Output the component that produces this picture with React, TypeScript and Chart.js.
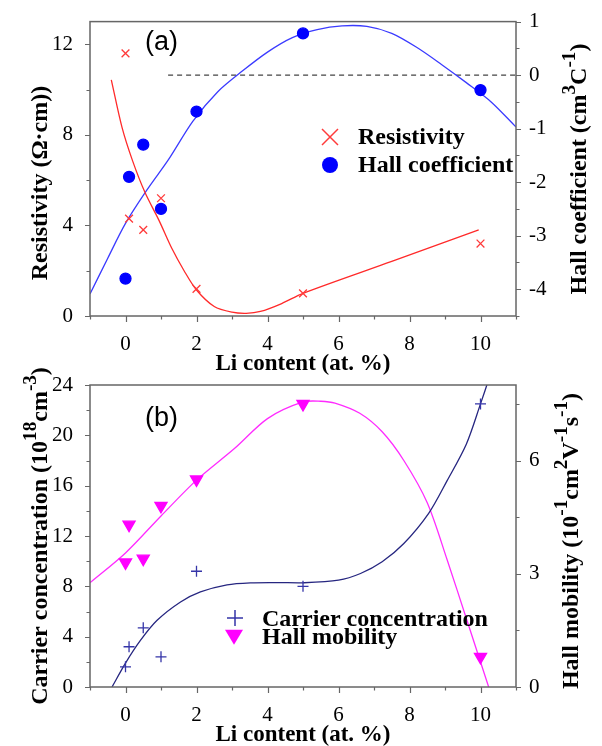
import React, { useEffect, useRef } from 'react';
import { Chart, registerables } from 'chart.js';

Chart.register(...registerables);

// ---------- data: panel (a) ----------
const liContent = [0, 0.1, 0.5, 1, 2, 5, 10];
const resistivity = [11.6, 4.3, 3.8, 5.2, 1.2, 1.0, 3.2];
const hallCoefficient = [-3.8, -1.9, -1.3, -2.5, -0.68, 0.78, -0.28];

const resistivityFitX = [-0.4, -0.1, 0.2, 0.55, 0.95, 1.3, 1.65, 2.0, 2.5, 3.0, 3.4, 3.8, 4.4, 5.0, 7.5, 9.95];
const resistivityFitY = [10.43, 8.34, 6.85, 5.45, 4.2, 3.0, 2.0, 1.15, 0.42, 0.17, 0.12, 0.2, 0.55, 1.0, 2.41, 3.8];

const hallFitX = [-1, -0.5, 0, 0.6, 1.2, 1.9, 2.6, 3.3, 4.0, 4.7, 5.4, 6.1, 6.8, 7.5, 8.2, 8.9, 9.6, 10.3, 11];
const hallFitY = [-4.09, -3.42, -2.77, -2.15, -1.59, -0.86, -0.31, 0.08, 0.43, 0.7, 0.85, 0.92, 0.91, 0.78, 0.52, 0.2, -0.14, -0.5, -0.97];

const zeroLineX = [1.2, 11];
const zeroLineY = [0, 0];

// ---------- data: panel (b) ----------
const carrierConcentration = [1.6, 3.2, 4.7, 2.4, 9.2, 8.0, 22.5];
const hallMobility = [3.3, 4.3, 3.4, 4.8, 5.5, 7.5, 0.8];

const carrierFitX = [-0.38, 0, 0.42, 0.89, 1.55, 2.11, 2.86, 3.52, 4.3, 5, 6.0, 6.62, 7.23, 7.84, 8.54, 9.06, 9.6, 10, 10.25];
const carrierFitY = [0, 1.9, 3.7, 5.3, 6.76, 7.56, 8.12, 8.28, 8.3, 8.28, 8.49, 9.02, 9.95, 11.4, 13.8, 16.4, 19.3, 22.5, 24.6];

const mobilityFitX = [-1, 0, 1, 2, 3.06, 4, 5, 5.5, 5.9, 6.6, 7.23, 7.84, 8.5, 9.06, 9.62, 10.23];
const mobilityFitY = [2.76, 3.55, 4.53, 5.48, 6.31, 7.11, 7.55, 7.57, 7.52, 7.25, 6.76, 6.0, 4.88, 3.37, 1.76, 0];

// ---------- tick values ----------
const xMajorTicks = [0, 2, 4, 6, 8, 10];
const xMinorTicks = [-1, 1, 3, 5, 7, 9, 11];
const resMajorTicks = [0, 4, 8, 12];
const resMinorTicks = [2, 6, 10];
const hallMajorTicks = [-4, -3, -2, -1, 0, 1];
const hallMinorTicks = [-4.5, -3.5, -2.5, -1.5, -0.5, 0.5];
const carMajorTicks = [0, 4, 8, 12, 16, 20, 24];
const carMinorTicks = [2, 6, 10, 14, 18, 22];
const mobMajorTicks = [0, 3, 6];
const mobMinorTicks = [1.5, 4.5, 7.5];

const SERIF = 'Liberation Serif, Times New Roman, serif';
const SANS = 'Liberation Sans, Arial, sans-serif';
const FRAME = '#666666';
const W = 602;
const H = 746;

const pts = (xs: number[], ys: number[]) => xs.map((x, i) => ({ x, y: ys[i] }));

type Rich = [string, boolean][];

function drawRich(ctx: CanvasRenderingContext2D, parts: Rich, cx: number, cy: number, size: number) {
  const supSize = size * 0.8;
  const fontMain = `bold ${size}px ${SERIF}`;
  const fontSup = `bold ${supSize}px ${SERIF}`;
  let total = 0;
  const widths = parts.map(([t, sup]) => {
    ctx.font = sup ? fontSup : fontMain;
    const w = ctx.measureText(t).width;
    total += w;
    return w;
  });
  ctx.save();
  ctx.translate(cx, cy);
  ctx.rotate(-Math.PI / 2);
  ctx.fillStyle = '#000';
  ctx.textBaseline = 'alphabetic';
  ctx.textAlign = 'left';
  const base = size * 0.33;
  let x = -total / 2;
  parts.forEach(([t, sup], i) => {
    ctx.font = sup ? fontSup : fontMain;
    ctx.fillText(t, x, sup ? base - size * 0.45 : base);
    x += widths[i];
  });
  ctx.restore();
}

function drawMarker(ctx: CanvasRenderingContext2D, kind: string, x: number, y: number, s: number, color: string) {
  ctx.save();
  ctx.strokeStyle = color;
  ctx.fillStyle = color;
  ctx.lineWidth = 1.5;
  ctx.beginPath();
  if (kind === 'crossRot') {
    ctx.moveTo(x - s, y - s); ctx.lineTo(x + s, y + s);
    ctx.moveTo(x - s, y + s); ctx.lineTo(x + s, y - s);
    ctx.stroke();
  } else if (kind === 'cross') {
    ctx.moveTo(x - s, y); ctx.lineTo(x + s, y);
    ctx.moveTo(x, y - s); ctx.lineTo(x, y + s);
    ctx.stroke();
  } else if (kind === 'circle') {
    ctx.arc(x, y, s, 0, Math.PI * 2);
    ctx.fill();
  } else if (kind === 'triDown') {
    ctx.moveTo(x - s, y - s * 0.8); ctx.lineTo(x + s, y - s * 0.8); ctx.lineTo(x, y + s * 0.85);
    ctx.closePath();
    ctx.fill();
  }
  ctx.restore();
}

interface PanelCfg {
  label: string;
  labelY: number;
  xTitleY: number;
  leftTitle: Rich; leftX: number; leftY: number;
  rightTitle: Rich; rightX: number; rightY: number;
  yMajor: number[]; yMinor: number[];
  y2Major: number[]; y2Minor: number[];
  legend: { kind: string; color: string; size: number; mx: number; my: number; text: string; tx: number; ty: number }[];
}

function overlayPlugin(p: PanelCfg) {
  return {
    id: 'overlay',
    afterDraw(chart: any) {
      const ctx: CanvasRenderingContext2D = chart.ctx;
      const a = chart.chartArea;
      const sx = chart.scales.x, sy = chart.scales.y, sy2 = chart.scales.y2;
      ctx.save();
      ctx.strokeStyle = FRAME;
      ctx.lineWidth = 1.5;
      ctx.strokeRect(a.left, a.top, a.right - a.left, a.bottom - a.top);
      ctx.lineWidth = 1.2;
      ctx.beginPath();
      const tickX = (vals: number[], len: number) => vals.forEach((v) => {
        const px = Math.round(sx.getPixelForValue(v)) + 0.5;
        ctx.moveTo(px, a.bottom); ctx.lineTo(px, a.bottom + len);
      });
      const tickL = (vals: number[], len: number) => vals.forEach((v) => {
        const py = Math.round(sy.getPixelForValue(v)) + 0.5;
        ctx.moveTo(a.left, py); ctx.lineTo(a.left - len, py);
      });
      const tickR = (vals: number[], len: number) => vals.forEach((v) => {
        const py = Math.round(sy2.getPixelForValue(v)) + 0.5;
        ctx.moveTo(a.right, py); ctx.lineTo(a.right + len, py);
      });
      tickX(xMajorTicks, 6); tickX(xMinorTicks, 3.5);
      tickL(p.yMajor, 5); tickL(p.yMinor, 3.5);
      tickR(p.y2Major, 5); tickR(p.y2Minor, 3.5);
      ctx.stroke();

      // panel label
      ctx.fillStyle = '#000';
      ctx.font = `27px ${SANS}`;
      ctx.textAlign = 'left';
      ctx.textBaseline = 'alphabetic';
      ctx.fillText(p.label, 145, p.labelY);

      // x title
      ctx.font = `bold 23px ${SERIF}`;
      ctx.textAlign = 'center';
      ctx.fillText('Li content (at. %)', (a.left + a.right) / 2, p.xTitleY);

      drawRich(ctx, p.leftTitle, p.leftX, p.leftY, 24);
      drawRich(ctx, p.rightTitle, p.rightX, p.rightY, 24);

      // legend
      p.legend.forEach((l) => {
        drawMarker(ctx, l.kind, l.mx, l.my, l.size, l.color);
        ctx.fillStyle = '#000';
        ctx.font = `bold 24px ${SERIF}`;
        ctx.textAlign = 'left';
        ctx.textBaseline = 'middle';
        ctx.fillText(l.text, l.tx, l.ty);
      });
      ctx.restore();
    },
  };
}

const tickFont = { family: SERIF, size: 21 };

function makeScales(yMin: number, yMax: number, yStep: number, yLabel: (v: number) => boolean,
  y2Min: number, y2Max: number, y2Step: number, y2Label: (v: number) => boolean) {
  const common = { grid: { display: false }, border: { display: false } };
  return {
    x: {
      ...common,
      type: 'linear', min: -1, max: 11,
      afterFit: (s: any) => { s.height = 40; },
      ticks: {
        stepSize: 1, autoSkip: false, includeBounds: false, maxRotation: 0, padding: 8, color: '#000', font: tickFont,
        callback: (v: any) => (v >= 0 && v % 2 === 0 ? String(v) : ''),
      },
    },
    y: {
      ...common,
      position: 'left', min: yMin, max: yMax,
      afterFit: (s: any) => { s.width = 90; },
      ticks: {
        stepSize: yStep, autoSkip: false, includeBounds: false, padding: 9, color: '#000', font: tickFont,
        callback: (v: any) => (yLabel(v) ? String(v) : ''),
      },
    },
    y2: {
      ...common,
      position: 'right', min: y2Min, max: y2Max,
      afterFit: (s: any) => { s.width = W - 516; },
      ticks: {
        stepSize: y2Step, autoSkip: false, includeBounds: false, padding: 5, color: '#000', font: tickFont,
        callback: (v: any) => (y2Label(v) ? String(Math.abs(v) < 1e-9 ? 0 : v) : ''),
      },
    },
  };
}

const scatter = (data: any[], axis: string, style: string, radius: number, color: string, rotation = 0) => ({
  data, yAxisID: axis, showLine: false, order: 0,
  pointStyle: style, pointRadius: radius, pointRotation: rotation,
  pointBackgroundColor: color, pointBorderColor: color, pointBorderWidth: 1.3,
});

const fitLine = (data: any[], axis: string, color: string, dash: number[] = [], tension = 0.3) => ({
  data, yAxisID: axis, showLine: true, order: 1, pointRadius: 0,
  borderColor: color, borderWidth: 1.3, borderDash: dash,
  tension, fill: false,
});

const panelA: PanelCfg = {
  label: '(a)', labelY: 50, xTitleY: 370,
  leftTitle: [['Resistivity (Ω·cm))', false]], leftX: 39, leftY: 183,
  rightTitle: [['Hall coefficient (cm', false], ['3', true], ['C', false], ['-1', true], [')', false]],
  rightX: 578, rightY: 169,
  yMajor: resMajorTicks, yMinor: resMinorTicks, y2Major: hallMajorTicks, y2Minor: hallMinorTicks,
  legend: [
    { kind: 'crossRot', color: '#ff3b3b', size: 8, mx: 330, my: 137, text: 'Resistivity', tx: 358, ty: 138 },
    { kind: 'circle', color: '#0000ff', size: 8, mx: 330, my: 165, text: 'Hall coefficient', tx: 358, ty: 166 },
  ],
};

const panelB: PanelCfg = {
  label: '(b)', labelY: 426, xTitleY: 741,
  leftTitle: [['Carrier concentration (10', false], ['18', true], ['cm', false], ['-3', true], [')', false]],
  leftX: 39, leftY: 536,
  rightTitle: [['Hall mobility (10', false], ['-1', true], ['cm', false], ['2', true], ['V', false], ['-1', true], ['s', false], ['-1', true], [')', false]],
  rightX: 570, rightY: 541,
  yMajor: carMajorTicks, yMinor: carMinorTicks, y2Major: mobMajorTicks, y2Minor: mobMinorTicks,
  legend: [
    { kind: 'cross', color: '#3535a8', size: 8, mx: 235, my: 618, text: 'Carrier concentration', tx: 262, ty: 620 },
    { kind: 'triDown', color: '#ff00ff', size: 9, mx: 234, my: 637, text: 'Hall mobility', tx: 262, ty: 638 },
  ],
};

function configA(): any {
  return {
    type: 'line',
    data: {
      datasets: [
        scatter(pts(liContent, resistivity), 'y', 'crossRot', 5.5, '#ff3b3b'),
        scatter(pts(liContent, hallCoefficient), 'y2', 'circle', 5.5, '#0000ff'),
        fitLine(pts(resistivityFitX, resistivityFitY), 'y', '#ff2a2a'),
        fitLine(pts(hallFitX, hallFitY), 'y2', '#3b3bff'),
        fitLine(pts(zeroLineX, zeroLineY), 'y2', '#444444', [5, 4], 0),
      ],
    },
    options: {
      responsive: false, animation: false, devicePixelRatio: 1,
      layout: { padding: { top: 15, bottom: H - 316 - 40, left: 0, right: 0 } },
      plugins: { legend: { display: false }, tooltip: { enabled: false } },
      events: [],
      scales: makeScales(0, 13, 2, (v) => v % 4 === 0 && v <= 12, -4.5, 1, 0.5, (v) => Math.abs(v - Math.round(v)) < 1e-9),
    },
    plugins: [overlayPlugin(panelA)],
  };
}

function configB(): any {
  return {
    type: 'line',
    data: {
      datasets: [
        scatter(pts(liContent, carrierConcentration), 'y', 'cross', 5.5, '#3535a8'),
        scatter(pts(liContent, hallMobility), 'y2', 'triangle', 7, '#ff00ff', 180),
        fitLine(pts(carrierFitX, carrierFitY), 'y', '#262680'),
        fitLine(pts(mobilityFitX, mobilityFitY), 'y2', '#ff2bff'),
      ],
    },
    options: {
      responsive: false, animation: false, devicePixelRatio: 1,
      layout: { padding: { top: 385, bottom: H - 687 - 40, left: 0, right: 0 } },
      plugins: { legend: { display: false }, tooltip: { enabled: false } },
      events: [],
      scales: makeScales(0, 24, 2, (v) => v % 4 === 0, 0, 8, 1.5, (v) => v % 3 === 0),
    },
    plugins: [overlayPlugin(panelB)],
  };
}

export default function App() {
  const refA = useRef<HTMLCanvasElement>(null);
  const refB = useRef<HTMLCanvasElement>(null);
  useEffect(() => {
    const a = new Chart(refA.current as HTMLCanvasElement, configA());
    const b = new Chart(refB.current as HTMLCanvasElement, configB());
    return () => { a.destroy(); b.destroy(); };
  }, []);
  const cs: React.CSSProperties = { position: 'absolute', left: 0, top: 0, width: W, height: H };
  return (
    <div style={{ position: 'absolute', left: 0, top: 0, width: W, height: H, background: '#fff' }}>
      <canvas ref={refA} width={W} height={H} style={cs} />
      <canvas ref={refB} width={W} height={H} style={cs} />
    </div>
  );
}
